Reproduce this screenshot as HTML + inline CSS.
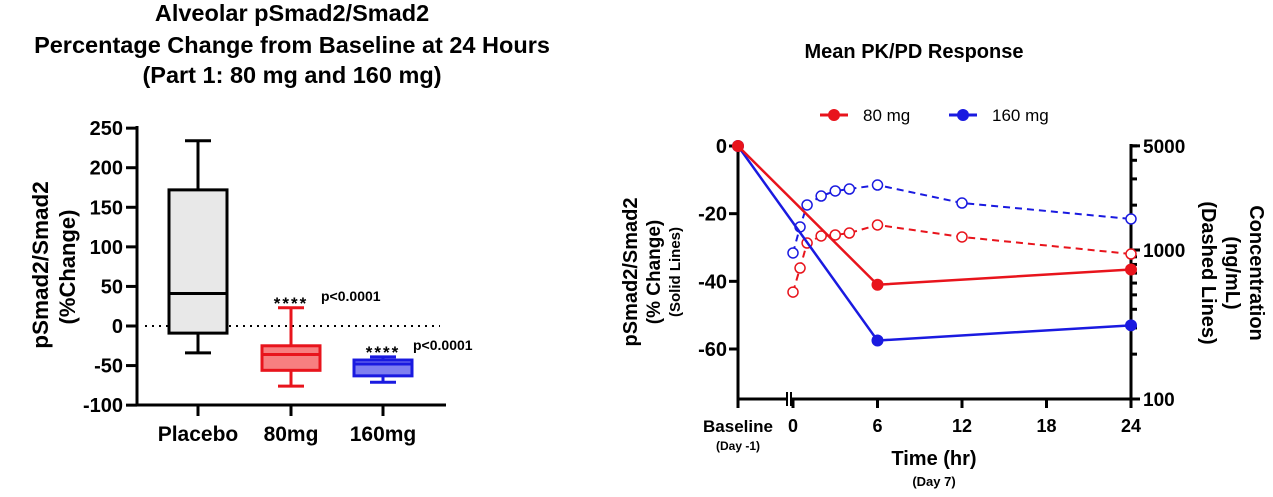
<!DOCTYPE html>
<html><head><meta charset="utf-8"><style>
body{margin:0;background:#fff;}
svg{display:block;font-family:"Liberation Sans",Arial,sans-serif;}
</style></head><body>
<svg id="svg" width="1273" height="497" viewBox="0 0 1273 497">
<g font-weight="bold" font-size="23.5" text-anchor="middle" fill="#000">
<text x="292" y="21">Alveolar pSmad2/Smad2</text>
<text x="292" y="53">Percentage Change from Baseline at 24 Hours</text>
<text x="292" y="83">(Part 1: 80 mg and 160 mg)</text>
</g>
<text x="914" y="58" font-weight="bold" font-size="20" text-anchor="middle">Mean PK/PD Response</text>
<g id="left"></g>
<g id="right"></g>
</svg>
<script>
// ---- Left box plot data ----
const boxCats = ["Placebo", "80mg", "160mg"];
const boxMin = [-34, -76, -71];
const boxQ1 = [-9, -56, -63];
const boxMed = [41, -36, -48];
const boxQ3 = [172, -25, -43];
const boxMax = [234, 23, -39];
const boxTicks = [250, 200, 150, 100, 50, 0, -50, -100];
const boxSig = ["****", "****"];
const boxP = ["p<0.0001", "p<0.0001"];

// ---- Right PK/PD data ----
const pdTimes = ["baseline", 6, 24];
const pd80 = [0, -41, -36.5];
const pd160 = [0, -57.5, -53];
const pkTimes = [0, 0.5, 1, 2, 3, 4, 6, 12, 24];
const pk80 = [522, 757, 1114, 1242, 1261, 1300, 1472, 1223, 940];
const pk160 = [955, 1427, 2005, 2303, 2489, 2566, 2730, 2067, 1615];
const pdTicks = [0, -20, -40, -60];
const pkTicks = [5000, 1000, 100];
const timeTicks = [0, 6, 12, 18, 24];

const NS = "http://www.w3.org/2000/svg";
function mk(parent, tag, attrs, txt) {
  const e = document.createElementNS(NS, tag);
  for (const k in attrs) e.setAttribute(k, attrs[k]);
  if (txt !== undefined) e.textContent = txt;
  parent.appendChild(e);
  return e;
}
const L = document.getElementById('left');
const R = document.getElementById('right');

// Left axes
const ly = v => 326 - v * (277 / 350);
const lx = i => [198, 291, 383][i];
let e;
e = mk(L, 'line', {x1: 137, y1: 126, x2: 137, y2: 406, stroke: '#000', 'stroke-width': 3});


e = mk(L, 'line', {x1: 136, y1: 405, x2: 446, y2: 405, stroke: '#000', 'stroke-width': 3});


boxTicks.forEach(t => {
  mk(L, 'line', {x1: 126, x2: 137, y1: ly(t), y2: ly(t), stroke: '#000', 'stroke-width': 3});
  e = mk(L, 'text', {x: 123, y: ly(t) + 7, 'text-anchor': 'end', 'font-size': 20, 'font-weight': 'bold'}, t);
  
  
});
mk(L, 'line', {x1: 145, x2: 440, y1: ly(0), y2: ly(0), stroke: '#000', 'stroke-width': 2, 'stroke-dasharray': '2,5'});
e = mk(L, 'text', {transform: 'translate(48,265) rotate(-90)', 'text-anchor': 'middle', 'font-size': 22.5, 'font-weight': 'bold'}, 'pSmad2/Smad2');


e = mk(L, 'text', {transform: 'translate(75,267) rotate(-90)', 'text-anchor': 'middle', 'font-size': 22, 'font-weight': 'bold'}, '(%Change)');


const strokes = ['#000', '#e8141c', '#1a1ae0'];
const fills = ['#e8e8e8', '#f77f80', '#7f7ff0'];
boxCats.forEach((c, i) => {
  const x = lx(i), hw = 29, cw = 13;
  mk(L, 'line', {x1: x, x2: x, y1: 405, y2: 416, stroke: '#000', 'stroke-width': 3});
  e = mk(L, 'text', {x: x, y: 441, 'text-anchor': 'middle', 'font-size': 21, 'font-weight': 'bold'}, c);
  
  
  const g = mk(L, 'g', {stroke: strokes[i], 'stroke-width': 3});
  
  
  mk(g, 'line', {x1: x, x2: x, y1: ly(boxMax[i]), y2: ly(boxQ3[i])});
  mk(g, 'line', {x1: x, x2: x, y1: ly(boxQ1[i]), y2: ly(boxMin[i])});
  mk(g, 'line', {x1: x - cw, x2: x + cw, y1: ly(boxMax[i]), y2: ly(boxMax[i])});
  mk(g, 'line', {x1: x - cw, x2: x + cw, y1: ly(boxMin[i]), y2: ly(boxMin[i])});
  mk(g, 'rect', {x: x - hw, y: ly(boxQ3[i]), width: hw * 2, height: ly(boxQ1[i]) - ly(boxQ3[i]), fill: fills[i]});
  mk(g, 'line', {x1: x - hw, x2: x + hw, y1: ly(boxMed[i]), y2: ly(boxMed[i])});
  if (i > 0) {
    e = mk(L, 'text', {x: x, y: ly(boxMax[i]) + 1, 'text-anchor': 'middle', 'font-size': 17, 'font-weight': 'bold', 'letter-spacing': 2}, boxSig[i - 1]);
    
    
    e = mk(L, 'text', {x: x + 30, y: ly(boxMax[i]) - 7, 'font-size': 14, 'font-weight': 'bold'}, boxP[i - 1]);
    
    
  }
});

// Right chart
const ry = v => 146 - v * (203 / 60);
const rx = t => t === 'baseline' ? 738 : 793 + t * (1131 - 793) / 24;
const ky = c => 399 - (Math.log10(c) - 2) * 149;
e = mk(R, 'line', {x1: 738, y1: 144, x2: 738, y2: 400, stroke: '#000', 'stroke-width': 3});


e = mk(R, 'line', {x1: 1131, y1: 144, x2: 1131, y2: 400, stroke: '#000', 'stroke-width': 3});


e = mk(R, 'line', {x1: 737, y1: 399, x2: 786, y2: 399, stroke: '#000', 'stroke-width': 3});


e = mk(R, 'line', {x1: 791, y1: 399, x2: 1132, y2: 399, stroke: '#000', 'stroke-width': 3});


mk(R, 'line', {x1: 787, x2: 787, y1: 392, y2: 406, stroke: '#000', 'stroke-width': 2});
mk(R, 'line', {x1: 791, x2: 791, y1: 392, y2: 406, stroke: '#000', 'stroke-width': 2});
mk(R, 'line', {x1: 738, x2: 738, y1: 399, y2: 408, stroke: '#000', 'stroke-width': 3});
pdTicks.forEach(t => {
  mk(R, 'line', {x1: 729, x2: 738, y1: ry(t), y2: ry(t), stroke: '#000', 'stroke-width': 3});
  e = mk(R, 'text', {x: 727, y: ry(t) + 7, 'text-anchor': 'end', 'font-size': 20, 'font-weight': 'bold'}, t);
  
  
});
for (let d = 100; d <= 1000; d *= 10) for (let m = 1; m < 10; m++) {
  const v = d * m; if (v > 5000) break;
  mk(R, 'line', {x1: 1131, x2: 1137, y1: ky(v), y2: ky(v), stroke: '#000', 'stroke-width': 3});
}
pkTicks.forEach(t => {
  mk(R, 'line', {x1: 1131, x2: 1140, y1: ky(t), y2: ky(t), stroke: '#000', 'stroke-width': 3});
  e = mk(R, 'text', {x: 1143, y: ky(t) + 7, 'font-size': 19, 'font-weight': 'bold'}, t);
  
  
});
timeTicks.forEach(t => {
  mk(R, 'line', {x1: rx(t), x2: rx(t), y1: 399, y2: 408, stroke: '#000', 'stroke-width': 3});
  e = mk(R, 'text', {x: rx(t), y: 432, 'text-anchor': 'middle', 'font-size': 18, 'font-weight': 'bold'}, t);
  
  
});
e = mk(R, 'text', {x: 738, y: 432, 'text-anchor': 'middle', 'font-size': 17, 'font-weight': 'bold'}, 'Baseline');


e = mk(R, 'text', {x: 738, y: 450, 'text-anchor': 'middle', 'font-size': 12, 'font-weight': 'bold'}, '(Day -1)');


e = mk(R, 'text', {x: 934, y: 465, 'text-anchor': 'middle', 'font-size': 20, 'font-weight': 'bold'}, 'Time (hr)');


e = mk(R, 'text', {x: 934, y: 486, 'text-anchor': 'middle', 'font-size': 13, 'font-weight': 'bold'}, '(Day 7)');


[['pSmad2/Smad2', 637, 20], ['(% Change)', 660, 19], ['(Solid Lines)', 680, 15]].forEach(([s, x, fs]) => {
  e = mk(R, 'text', {transform: `translate(${x},272) rotate(-90)`, 'text-anchor': 'middle', 'font-size': fs, 'font-weight': 'bold'}, s);
  
  
});
[['Concentration', 1250, 20], ['(ng/mL)', 1226, 20], ['(Dashed Lines)', 1202, 20]].forEach(([s, x, fs]) => {
  e = mk(R, 'text', {transform: `translate(${x},273) rotate(90)`, 'text-anchor': 'middle', 'font-size': fs, 'font-weight': 'bold'}, s);
  
  
});
const red = '#e8141c', blue = '#1a1ae0';
function pk(vals, col, name) {
  const pts = pkTimes.map((t, i) => rx(t) + ',' + ky(vals[i])).join(' ');
  e = mk(R, 'polyline', {points: pts, fill: 'none', stroke: col, 'stroke-width': 2, 'stroke-dasharray': '7,5'});
  
  
  pkTimes.forEach((t, i) => {
    e = mk(R, 'circle', {cx: rx(t), cy: ky(vals[i]), r: 5, fill: '#fff', stroke: col, 'stroke-width': 1.5});
    
    
  });
}
function pd(vals, col, name) {
  const pts = pdTimes.map((t, i) => rx(t) + ',' + ry(vals[i])).join(' ');
  e = mk(R, 'polyline', {points: pts, fill: 'none', stroke: col, 'stroke-width': 2.5});
  
  
  pdTimes.forEach((t, i) => {
    e = mk(R, 'circle', {cx: rx(t), cy: ry(vals[i]), r: 6, fill: col});
    
    
  });
}
pk(pk160, blue, '160mg'); pk(pk80, red, '80mg');
pd(pd160, blue, '160mg'); pd(pd80, red, '80mg');
[['80 mg', red, 834], ['160 mg', blue, 963]].forEach(([s, col, x]) => {
  const g = mk(R, 'g', {});
  
  
  mk(g, 'line', {x1: x - 14, x2: x + 14, y1: 115, y2: 115, stroke: col, 'stroke-width': 3});
  mk(g, 'circle', {cx: x, cy: 115, r: 6, fill: col});
  mk(g, 'text', {x: x + 29, y: 121, 'font-size': 17}, s);
});
</script>
</body></html>
